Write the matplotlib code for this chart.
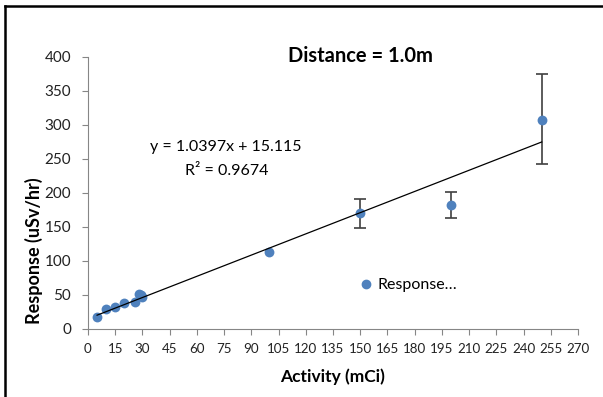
import numpy as np
import matplotlib.pyplot as plt
from matplotlib.lines import Line2D

plt.rcParams['font.family'] = ['Lato', 'DejaVu Sans']

# data
activity = [5, 10, 15, 20, 26, 28, 29, 30, 100, 150, 200, 250]
response = [18, 30, 32, 38, 40, 52, 50, 47, 113, 170, 183, 308]
err_low = [0, 0, 0, 0, 0, 0, 0, 0, 0, 22, 20, 66]
err_high = [0, 0, 0, 0, 0, 0, 0, 0, 0, 21, 19, 67]
slope, intercept = 1.0397, 15.115
x_ticks = list(range(0, 271, 15))
y_ticks = list(range(0, 401, 50))


def main():
    fig = plt.figure(figsize=(6.03, 3.97), dpi=100)
    ax = fig.add_axes([88/603, 1 - 329/397, 490/603, 272/397])

    blue = '#4f81bd'
    gray = '#868686'

    x = np.array(activity)
    y = np.array(response)
    has_err = (np.array(err_low) + np.array(err_high)) > 0
    ax.errorbar(x[has_err], y[has_err],
                yerr=[np.array(err_low)[has_err], np.array(err_high)[has_err]],
                fmt='none', ecolor='#404040', elinewidth=1.2, capsize=4, capthick=1.2, zorder=2)
    ax.scatter(x, y, s=50, color=blue, zorder=3, linewidths=0)

    xf = np.array([x.min(), x.max()])
    ax.plot(xf, slope*xf + intercept, color='black', lw=0.9, zorder=4)

    ax.set_xlim(0, 270)
    ax.set_ylim(0, 400)
    ax.set_xticks(x_ticks)
    ax.set_yticks(y_ticks)
    ax.tick_params(axis='x', direction='out', length=4, color=gray, labelsize=9.6,
                   pad=6, labelcolor='#222222')
    ax.tick_params(axis='y', direction='out', length=4, color=gray, labelsize=11,
                   pad=8, labelcolor='#222222')
    for s in ['top', 'right']:
        ax.spines[s].set_visible(False)
    for s in ['left', 'bottom']:
        ax.spines[s].set_color(gray)

    fig.text(333/603, 1 - 377/397, 'Activity (mCi)', ha='center', va='center',
             fontsize=12.5, fontweight='bold')
    fig.text(34/603, 1 - 251/397, 'Response (uSv/hr)', ha='center', va='center',
             fontsize=13, fontweight='bold', rotation=90)

    fig.text(360/603, 1 - 56/397, 'Distance = 1.0m', ha='center', va='center',
             fontsize=14.5, fontweight='bold')
    fig.text(226/603, 1 - 147/397, 'y = 1.0397x + 15.115', ha='center', va='center', fontsize=11.5)
    fig.text(227/603, 1 - 171/397, 'R² = 0.9674', ha='center', va='center', fontsize=11.5)

    handle = Line2D([], [], marker='o', ls='none', color=blue, markersize=6)
    ax.legend([handle], ['Response…'], loc='center left', frameon=False,
              bbox_to_anchor=(342/603, 1 - 285/397), bbox_transform=fig.transFigure,
              fontsize=11.5, handletextpad=0.1, handlelength=1.2)

    # black border at top and left of the cropped image
    fig.add_artist(Line2D([5/603, 1], [1 - 6/397, 1 - 6/397], color='black', lw=1.8,
                          transform=fig.transFigure))
    fig.add_artist(Line2D([5/603, 5/603], [0, 1 - 6/397], color='black', lw=1.8,
                          transform=fig.transFigure))

    fig.savefig('out.png', dpi=100)


if __name__ == "__main__":
    main()
